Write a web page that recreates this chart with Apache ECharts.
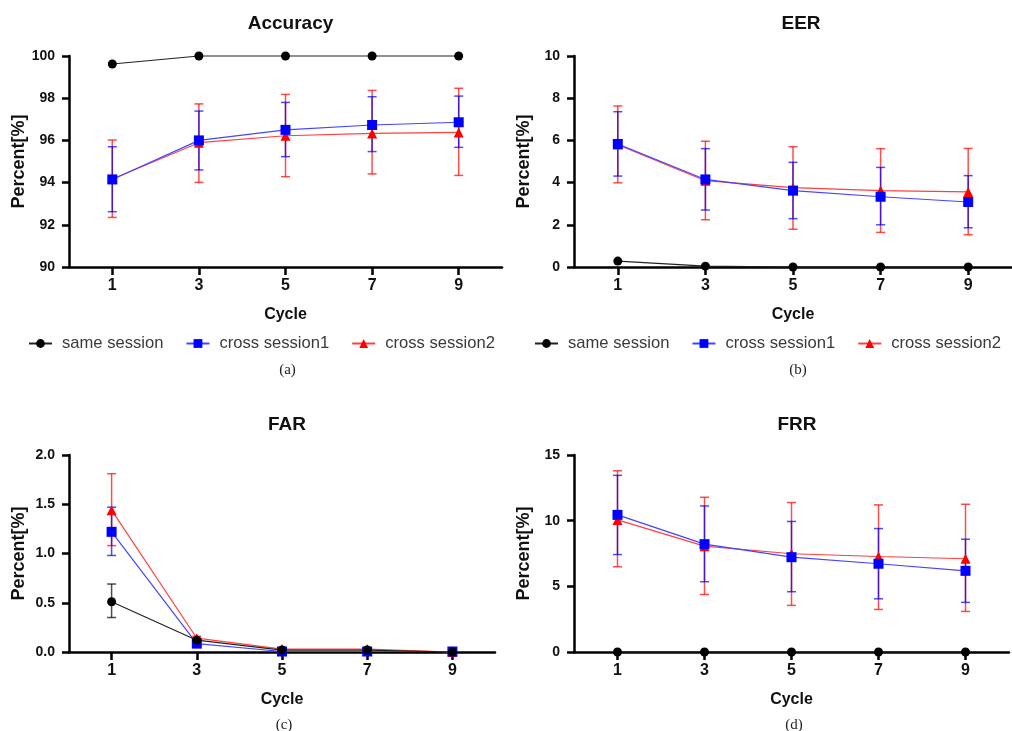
<!DOCTYPE html>
<html>
<head>
<meta charset="utf-8">
<script src="https://cdn.jsdelivr.net/npm/echarts@6/dist/echarts.min.js"></script>
<style>
  html, body { margin: 0; padding: 0; background: #fff; }
  #chart { width: 1012px; height: 731px; }
</style>
</head>
<body>
<div id="chart"></div>
<script>
// x values (cycles)
var cycles = [1, 3, 5, 7, 9];
var seriesNames = ["same session", "cross session1", "cross session2"];

// Accuracy
var accSame = [99.62, 100, 100, 100, 100];
var accCs1 = [94.15, 96.0, 96.5, 96.73, 96.86];
var accCs1Lo = [92.62, 94.6, 95.23, 95.47, 95.67];
var accCs1Hi = [95.7, 97.39, 97.8, 98.07, 98.1];
var accCs2 = [94.17, 95.89, 96.22, 96.33, 96.38];
var accCs2Lo = [92.35, 94.01, 94.28, 94.41, 94.34];
var accCs2Hi = [96.02, 97.73, 98.18, 98.37, 98.47];

// EER
var eerSame = [0.28, 0.04, 0, 0, 0];
var eerCs1 = [5.83, 4.15, 3.62, 3.33, 3.08];
var eerCs1Lo = [4.31, 2.7, 2.29, 2.0, 1.86];
var eerCs1Hi = [7.36, 5.61, 4.96, 4.72, 4.33];
var eerCs2 = [5.8, 4.09, 3.76, 3.62, 3.56];
var eerCs2Lo = [3.99, 2.24, 1.79, 1.64, 1.53];
var eerCs2Hi = [7.63, 5.96, 5.7, 5.61, 5.62];

// FAR
var farSame = [0.51, 0.12, 0.02, 0.02, 0];
var farSameLo = [0.35, 0.1, 0.01, 0.01, 0];
var farSameHi = [0.69, 0.14, 0.03, 0.03, 0];
var farCs1 = [1.22, 0.085, 0.005, 0.005, 0.005];
var farCs1Lo = [0.98, 0.07, 0, 0, 0];
var farCs1Hi = [1.47, 0.1, 0.01, 0.01, 0.01];
var farCs2 = [1.44, 0.14, 0.03, 0.03, 0];
var farCs2Lo = [1.08, 0.12, 0.02, 0.02, 0];
var farCs2Hi = [1.81, 0.16, 0.04, 0.04, 0];

// FRR
var frrSame = [0, 0, 0, 0, 0];
var frrCs1 = [10.44, 8.21, 7.22, 6.72, 6.18];
var frrCs1Lo = [7.42, 5.35, 4.59, 4.05, 3.78];
var frrCs1Hi = [13.45, 11.12, 9.94, 9.4, 8.59];
var frrCs2 = [10.06, 8.06, 7.48, 7.27, 7.1];
var frrCs2Lo = [6.49, 4.38, 3.55, 3.24, 3.09];
var frrCs2Hi = [13.8, 11.78, 11.38, 11.2, 11.25];

var FONT = "Liberation Sans, Arial, sans-serif";
var colors = ["#000000", "#0000ff", "#ff0000"];
var lineColors = ["#222222", "#4545ff", "#ff4040"];
var symbols = ["circle", "rect", "triangle"];
var symbolSizes = [9, 10, 10];

var panels = [
  { title: "Accuracy", cap: "(a)", left: 69, top: 56, width: 433, height: 211, titleTop: 9, capTop: 358,
    min: 90, max: 100, interval: 2, fmt: null,
    mean: [accSame, accCs1, accCs2], lo: [null, accCs1Lo, accCs2Lo], hi: [null, accCs1Hi, accCs2Hi] },
  { title: "EER", cap: "(b)", left: 574, top: 56, width: 444, height: 211, titleTop: 9, capTop: 358,
    min: 0, max: 10, interval: 2, fmt: null,
    mean: [eerSame, eerCs1, eerCs2], lo: [null, eerCs1Lo, eerCs2Lo], hi: [null, eerCs1Hi, eerCs2Hi] },
  { title: "FAR", cap: "(c)", left: 69, top: 455, width: 426, height: 197, titleTop: 410, capTop: 713,
    min: 0, max: 2, interval: 0.5, fmt: 1,
    mean: [farSame, farCs1, farCs2], lo: [farSameLo, farCs1Lo, farCs2Lo], hi: [farSameHi, farCs1Hi, farCs2Hi] },
  { title: "FRR", cap: "(d)", left: 574, top: 455, width: 435, height: 197, titleTop: 410, capTop: 713,
    min: 0, max: 15, interval: 5, fmt: null,
    mean: [frrSame, frrCs1, frrCs2], lo: [null, frrCs1Lo, frrCs2Lo], hi: [null, frrCs1Hi, frrCs2Hi] }
];

var chart = echarts.init(document.getElementById("chart"));

var grids = [], xAxes = [], yAxes = [], titles = [], series = [];

panels.forEach(function (p, gi) {
  grids.push({ left: p.left, top: p.top, width: p.width, height: p.height, containLabel: false });
  var cx = p.left + p.width / 2;
  if (gi === 1) cx = 796;
  if (gi === 3) cx = 792;
  titles.push({
    text: p.title, left: cx, top: p.titleTop, textAlign: "center",
    textStyle: { fontFamily: FONT, fontSize: 19, fontWeight: "bold", color: "#111" }
  });
  titles.push({
    text: p.cap, left: cx - 3, top: p.capTop, textAlign: "center",
    textStyle: { fontFamily: "Liberation Serif, serif", fontSize: 15, fontWeight: "normal", color: "#222" }
  });
  xAxes.push({
    gridIndex: gi, type: "value", min: 0, max: 10,
    name: "Cycle", nameLocation: "middle", nameGap: 40,
    nameTextStyle: { fontFamily: FONT, fontSize: 16, fontWeight: "bold", color: "#111" },
    axisLine: { lineStyle: { color: "#000", width: 2.5 } },
    axisTick: { show: true, length: 8, lineStyle: { width: 2.5, color: "#000" }, customValues: cycles },
    axisLabel: { fontFamily: FONT, fontSize: 16, fontWeight: "bold", color: "#111", margin: 11, customValues: cycles },
    splitLine: { show: false }
  });
  yAxes.push({
    gridIndex: gi, type: "value", min: p.min, max: p.max, interval: p.interval,
    name: "Percent[%]", nameLocation: "middle", nameGap: 41, nameRotate: 90,
    nameTextStyle: { fontFamily: FONT, fontSize: 18, fontWeight: "bold", color: "#111" },
    axisLine: { show: true, lineStyle: { color: "#000", width: 2.5 } },
    axisTick: { show: true, length: 7, lineStyle: { width: 2.5, color: "#000" } },
    axisLabel: {
      fontFamily: FONT, fontSize: 14, fontWeight: "bold", color: "#111", margin: 14,
      formatter: function (v) { return p.fmt ? v.toFixed(p.fmt) : String(v); }
    },
    splitLine: { show: false }
  });

  // draw order: red, blue, black on top
  [2, 1, 0].forEach(function (si) {
    if (p.lo[si]) {
      var eb = cycles.map(function (c, i) { return [c, p.lo[si][i], p.hi[si][i]]; });
      series.push({
        type: "custom", xAxisIndex: gi, yAxisIndex: gi, z: 3, clip: false,
        silent: true, encode: { x: 0, y: [1, 2] },
        data: eb,
        renderItem: (function (col) {
          return function (params, api) {
            var a = api.coord([api.value(0), api.value(1)]);
            var b = api.coord([api.value(0), api.value(2)]);
            var w = 4.5;
            var st = { stroke: col, lineWidth: 1.5, opacity: 0.7 };
            return {
              type: "group",
              children: [
                { type: "line", shape: { x1: a[0], y1: a[1], x2: b[0], y2: b[1] }, style: st },
                { type: "line", shape: { x1: a[0] - w, y1: a[1], x2: a[0] + w, y2: a[1] }, style: st },
                { type: "line", shape: { x1: b[0] - w, y1: b[1], x2: b[0] + w, y2: b[1] }, style: st }
              ]
            };
          };
        })(colors[si])
      });
    }
    series.push({
      name: seriesNames[si], type: "line", xAxisIndex: gi, yAxisIndex: gi,
      z: 4 + (2 - si), clip: false,
      data: cycles.map(function (c, i) { return [c, p.mean[si][i]]; }),
      symbol: symbols[si], symbolSize: symbolSizes[si],
      itemStyle: { color: colors[si] },
      lineStyle: { color: lineColors[si], width: 1.2 },
      emphasis: { disabled: true }
    });
  });
});

function makeLegend(left) {
  return {
    left: left, top: 330, orient: "horizontal", itemWidth: 23, itemHeight: 11, itemGap: 22,
    data: seriesNames.map(function (n) { return { name: n }; }),
    textStyle: { fontFamily: FONT, fontSize: 16.6, color: "#3a3a3a", padding: [0, 0, 0, 5] },
    selectedMode: false
  };
}

var option = {
  animation: false,
  backgroundColor: "#fff",
  title: titles,
  legend: [makeLegend(23), makeLegend(529)],
  grid: grids,
  xAxis: xAxes,
  yAxis: yAxes,
  series: series
};
chart.setOption(option);
</script>
</body>
</html>
